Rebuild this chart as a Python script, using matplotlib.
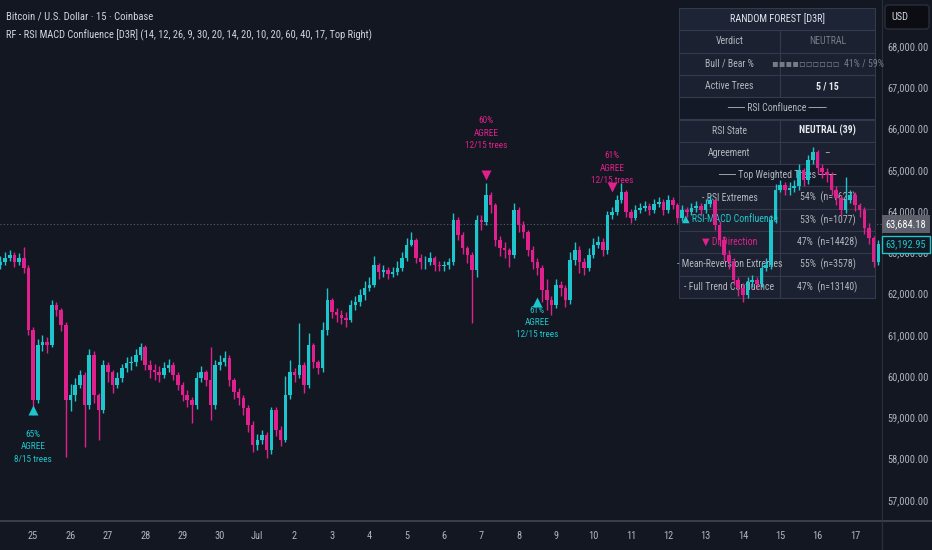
import matplotlib
matplotlib.use("Agg")
import matplotlib.pyplot as plt
import numpy as np
import pandas as pd
from matplotlib import font_manager as fm
from matplotlib.patches import Rectangle, FancyBboxPatch
from matplotlib.lines import Line2D
from matplotlib.transforms import Affine2D, blended_transform_factory

# ---------- data: BTC/USD, resampled to 3h bars ----------
bar_start = "2024-06-24 03:00"
bar_freq = "3h"
first_open = 62700

closes = [
    62760, 62860, 62930, 62760, 62860, 62620, 61120, 59420, 60750, 60820,
    60750, 61720, 61600, 61240, 59420, 59540, 59780, 60020, 59300, 60510,
    59540, 59180, 60270, 60100, 59780, 59950, 60190, 60320, 60340, 60510,
    60700, 60270, 60150, 60100, 60020, 60190, 60270, 60020, 59780, 59540,
    59420, 59300, 59950, 60100, 59900, 59300, 60270, 60340, 60440, 59900,
    59610, 59470, 59230, 58810, 58330, 58450, 58570, 58210, 59180, 58690,
    58450, 59540, 60100, 60020, 60270, 59780, 60750, 60340, 60190, 61120,
    61840, 61550, 61480, 61410, 61360, 61720, 61790, 61960, 62130, 62210,
    62690, 62520, 62570, 62470, 62520, 62620, 62860, 63180, 63300, 62860,
    62760, 62760, 62860, 62690, 62670, 62690, 62760, 63780, 63420, 63100,
    62930, 62570, 63780, 63730, 64390, 64150, 63300, 63100, 63060, 62930,
    64020, 63660, 63490, 63060, 62760, 62620, 62090, 61840, 61720, 62210,
    62130, 61840, 62810, 63060, 62760, 62620, 62930, 63180, 63250, 63060,
    63900, 63980, 64270, 64460, 63980, 63830, 64020, 64070, 64120, 64020,
    64170, 64220, 64020, 64270, 64150, 63830, 64020, 63980, 64070, 64120,
    64020, 64170, 64270, 63660, 63300, 62930, 62760, 62330, 62130, 61960,
    62280, 62330, 62230, 62620, 62690, 63780, 64510, 64630, 64510, 64560,
    64610, 64990, 64750, 65240, 65430, 65040, 64950, 64870, 64510, 64320,
    64020, 64270, 64390, 64150, 64020, 63590, 63350, 62760, 63192.95,
]
highs = [
    62900, 63010, 63050, 63000, 62980, 63130, 62700, 61200, 60900, 61000,
    60950, 61840, 61800, 61650, 61300, 59800, 59950, 60150, 60100, 60650,
    60600, 59600, 60400, 60350, 60150, 60100, 60300, 60450, 60480, 60650,
    60800, 60750, 60380, 60300, 60250, 60350, 60420, 60350, 60100, 59850,
    59650, 59500, 60100, 60250, 60150, 60700, 60400, 60500, 60600, 60500,
    59950, 59700, 59550, 59300, 58900, 58600, 58700, 58650, 59250, 59250,
    58800, 60000, 60380, 60200, 61290, 60350, 61040, 60800, 60400, 61300,
    62130, 61900, 61650, 61600, 61550, 61850, 61950, 62100, 62300, 62400,
    62900, 62750, 62700, 62650, 62650, 62800, 63000, 63350, 63480, 63350,
    62950, 62900, 63000, 62900, 62800, 62800, 62850, 63950, 63850, 63500,
    63150, 63000, 63900, 63900, 64680, 64450, 64200, 63400, 63250, 63100,
    64200, 64100, 63750, 63550, 63150, 62850, 62700, 62350, 61950, 62350,
    62300, 62200, 63000, 63250, 63150, 62850, 63100, 63350, 63400, 63350,
    64000, 64100, 64400, 64680, 64500, 64050, 64150, 64200, 64250, 64200,
    64300, 64350, 64280, 64400, 64350, 64200, 64150, 64100, 64200, 64250,
    64200, 64300, 64400, 64300, 63750, 63400, 63050, 62850, 62400, 62250,
    62400, 62450, 62400, 62750, 62850, 63900, 64650, 64750, 64700, 64700,
    64750, 65150, 65050, 65350, 65550, 65480, 65150, 65050, 64950, 64600,
    64400, 64830, 64500, 64450, 64200, 64100, 63700, 63400, 63300,
]
lows = [
    62600, 62700, 62780, 62650, 62700, 62500, 61000, 59050, 59350, 60600,
    60550, 60700, 61450, 61100, 58040, 59150, 59400, 59700, 58280, 59200,
    59350, 58450, 59100, 59850, 59600, 59700, 59850, 60100, 60150, 60250,
    60400, 60150, 59950, 59900, 59850, 59950, 60100, 59900, 59650, 59400,
    59250, 58860, 59200, 59850, 59750, 58930, 59200, 60150, 60250, 59750,
    59450, 59300, 59050, 58650, 58150, 58200, 58350, 58010, 58100, 58550,
    58300, 58400, 59450, 59850, 59950, 59600, 59700, 60200, 60050, 60100,
    61000, 61400, 61300, 61250, 61200, 61300, 61600, 61700, 61850, 62050,
    62150, 62350, 62400, 62350, 62400, 62450, 62550, 62800, 63150, 62750,
    62600, 62600, 62700, 62550, 62550, 62550, 62600, 62700, 63300, 62950,
    62750, 61290, 62400, 63550, 63650, 63950, 63150, 62900, 62850, 62640,
    62850, 63500, 63350, 62900, 62600, 62450, 61800, 61600, 61480, 61650,
    61950, 61670, 61750, 62700, 62500, 62450, 62550, 62850, 63100, 62900,
    62950, 63800, 63900, 64200, 63850, 63700, 63780, 63950, 64000, 63900,
    63950, 64100, 63900, 63950, 64050, 63700, 63750, 63850, 63900, 63980,
    63900, 63950, 64100, 63550, 63150, 62800, 62600, 62200, 61950, 61800,
    61880, 62150, 62100, 62150, 62550, 62600, 63700, 64450, 64400, 64400,
    64450, 64500, 64600, 64650, 65150, 64900, 64800, 64700, 64400, 64150,
    63900, 63950, 64200, 64000, 63850, 63450, 63200, 62640, 62700,
]

ref_price = 63684.18
last_price = closes[-1]

# signals: bar, triangle price, price of the middle text line
sig_bar = [7, 104, 115, 131]
sig_dir = ["up", "down", "up", "down"]
sig_price = [59180, 64870, 61800, 64580]
sig_text_price = [58280, 65890, 61290, 65040]
sig_pct = [65, 60, 61, 61]
sig_trees = [8, 12, 12, 12]

tbl_kind = ["head", "row", "row", "row", "sect", "row", "row", "sect",
            "row", "row", "row", "row", "row"]
tbl_label = ["RANDOM FOREST [D3R]", "Verdict", "Bull / Bear %", "Active Trees",
             "\u2500\u2500\u2500 RSI Confluence \u2500\u2500\u2500", "RSI State", "Agreement",
             "\u2500\u2500\u2500 Top Weighted Trees \u2500\u2500\u2500", "- RSI Extremes",
             "▲ RSI-MACD Confluence", "▼ DI Direction",
             "- Mean-Reversion Extremes", "- Full Trend Confluence"]
tbl_value = ["", "NEUTRAL", "▪▪▪▪▫▫▫▫▫▫  41% / 59%", "5 / 15", "",
             "NEUTRAL (39)", "–", "", "54%  (n=1627)", "53%  (n=1077)",
             "47%  (n=14428)", "55%  (n=3578)", "47%  (n=13140)"]
tbl_label_col = ["#e0e3eb", "#b2b5be", "#b2b5be", "#b2b5be", "#b2b5be", "#b2b5be",
                 "#b2b5be", "#b2b5be", "#b2b5be", "#22c7cc", "#e0208c", "#b2b5be", "#b2b5be"]
tbl_value_col = ["", "#787b86", "#787b86", "#e6e8ee", "", "#e6e8ee", "#b2b5be", "",
                 "#b2b5be", "#b2b5be", "#b2b5be", "#b2b5be", "#b2b5be"]
tbl_value_bold = [False, False, False, True, False, True, False, False,
                  False, False, False, False, False]

title1 = "Bitcoin / U.S. Dollar · 15 · Coinbase"
title2 = "RF - RSI MACD Confluence [D3R] (14, 12, 26, 9, 30, 20, 14, 20, 10, 20, 60, 40, 17, Top Right)"

# ---------- style ----------
BG = "#131722"
TEAL = "#1cc6cc"
PINK = "#e0208c"
GRID = "#2a2e39"
TXT = "#b2b5be"

# TradingView's UI font is narrow; look for a condensed face, else shrink
ttf = fm.fontManager.ttflist
names = {f.name for f in ttf}
STRETCH = "normal"
FONT, FS = None, 7.5
for n in ["Liberation Sans Narrow", "Roboto Condensed", "Open Sans Condensed",
          "DejaVu Sans Condensed", "Noto Sans Condensed"]:
    if n in names:
        FONT = n
        break
if FONT is None:
    narrow = sorted(n for n in names if "Narrow" in n or "Condensed" in n)
    if narrow:
        FONT = narrow[0]
if FONT is None and any(f.name == "DejaVu Sans" and "condensed" in str(f.stretch) for f in ttf):
    FONT, STRETCH = "DejaVu Sans", "condensed"
if FONT is None:
    FONT, FS = ("Liberation Sans" if "Liberation Sans" in names else "DejaVu Sans"), 6.6
FAM = [FONT, "DejaVu Sans"]
plt.rcParams["font.family"] = FAM
plt.rcParams["font.stretch"] = STRETCH

W, H = 932, 550
fig = plt.figure(figsize=(W / 100, H / 100), dpi=100, facecolor=BG)
ax = fig.add_axes([0, 29 / H, 882 / W, 521 / H], facecolor=BG)
pix = Affine2D().scale(1 / W, -1 / H).translate(0, 1) + fig.transFigure

# ---------- candles ----------
o = np.array([first_open] + closes[:-1], dtype=float)
c = np.array(closes, dtype=float)
h = np.array(highs, dtype=float)
l = np.array(lows, dtype=float)
idx = np.arange(len(c))
col = np.where(c >= o, TEAL, PINK)
ax.vlines(idx, l, h, colors=col, lw=1.0, zorder=5)
ax.bar(idx, np.abs(c - o), bottom=np.minimum(o, c), width=0.75, color=col, zorder=5)

ax.set_xlim(-0.1, 188.8)
ax.set_ylim(56486, 69115)

ax.axhline(ref_price, color="#5d606b", lw=0.8, ls=(0, (1, 2)), zorder=1)

# signal markers and labels
for b, d, p, tp, pct, n in zip(sig_bar, sig_dir, sig_price, sig_text_price, sig_pct, sig_trees):
    cc = TEAL if d == "up" else PINK
    ax.plot(b, p, marker="^" if d == "up" else "v", color=cc, ms=7, mec="none", zorder=6)
    ax.text(b, tp, f"{pct}%\nAGREE\n{n}/15 trees", color=cc, fontsize=FS - 0.8,
            ha="center", va="center", linespacing=1.45, zorder=6)

# ---------- axes ----------
dates = pd.date_range(bar_start, periods=len(c), freq=bar_freq)
mid = [i for i, t in enumerate(dates) if t.hour == 0]
mid_lbl = ["Jul" if dates[i].day == 1 else str(dates[i].day) for i in mid]
ax.set_xticks(mid, mid_lbl)
yt = list(range(57000, 68001, 1000))
ax.set_yticks(yt, [f"{v:,.2f}" for v in yt])
ax.yaxis.tick_right()
ax.tick_params(axis="x", length=0, pad=7, labelsize=FS, labelcolor=TXT)
ax.tick_params(axis="y", length=0, pad=4, labelsize=FS, labelcolor=TXT)
for s in ["top", "left"]:
    ax.spines[s].set_visible(False)
ax.spines["right"].set_color(GRID)
ax.spines["bottom"].set_color("#3a3e4a")
ax.spines["bottom"].set_linewidth(1.5)
fig.add_artist(Line2D([882, 932], [521, 521], transform=pix, color="#3a3e4a", lw=1.5))
fig.add_artist(Line2D([882, 882], [521, 550], transform=pix, color=GRID, lw=1))

# price tags on the right scale
btr = blended_transform_factory(ax.transAxes, ax.transData)
ax.text(1.004, ref_price, f"{ref_price:,.2f}", transform=btr, ha="left", va="center",
        fontsize=FS, color="#ffffff", clip_on=False, zorder=8,
        bbox=dict(boxstyle="square,pad=0.35", fc="#5d606b", ec="none"))
ax.text(1.004, last_price, f"{last_price:,.2f}", transform=btr, ha="left", va="center",
        fontsize=FS, color=TEAL, clip_on=False, zorder=8,
        bbox=dict(boxstyle="square,pad=0.35", fc=BG, ec=TEAL, lw=1))

# USD box
fig.add_artist(FancyBboxPatch((885, 5), 44, 24, boxstyle="round,pad=0,rounding_size=3",
                              transform=pix, fc="#0b0d13", ec=GRID, lw=1))
fig.text(891, 17, "USD", transform=pix, ha="left", va="center", fontsize=FS, color="#d1d4dc")

# titles
fig.text(6, 17, title1, transform=pix, ha="left", va="center", fontsize=FS + 0.2, color="#d1d4dc")
fig.text(6, 35, title2, transform=pix, ha="left", va="center", fontsize=FS, color="#d1d4dc")

# ---------- random forest table ----------
tx0, tx1, txm = 679, 875, 780
ty0, rh = 8, 22.3
TFS = FS - 0.4
for r, kind in enumerate(tbl_kind):
    y = ty0 + r * rh
    if kind == "row":
        ax.add_patch(Rectangle((tx0, y), txm - tx0, rh, transform=pix, fc="#1c2232",
                               ec="#363c4e", lw=0.8, alpha=0.92, zorder=2))
        ax.add_patch(Rectangle((txm, y), tx1 - txm, rh, transform=pix, fc="#1c2232",
                               ec="#363c4e", lw=0.8, alpha=0.92, zorder=2))
        ax.text((tx0 + txm) / 2, y + rh / 2, tbl_label[r], transform=pix, ha="center",
                va="center", fontsize=TFS, color=tbl_label_col[r], zorder=3)
        ax.text((txm + tx1) / 2, y + rh / 2, tbl_value[r], transform=pix, ha="center",
                va="center", fontsize=TFS, color=tbl_value_col[r], zorder=3,
                fontweight="bold" if tbl_value_bold[r] else "normal")
    else:
        fc = "#1e2538" if kind == "head" else "#141a28"
        ax.add_patch(Rectangle((tx0, y), tx1 - tx0, rh, transform=pix, fc=fc,
                               ec="#363c4e", lw=0.8, alpha=0.95, zorder=2))
        ax.text((tx0 + tx1) / 2, y + rh / 2, tbl_label[r], transform=pix, ha="center",
                va="center", fontsize=TFS + (0.3 if kind == "head" else 0),
                color=tbl_label_col[r], zorder=3)

fig.savefig("out.png", dpi=100, facecolor=BG)
